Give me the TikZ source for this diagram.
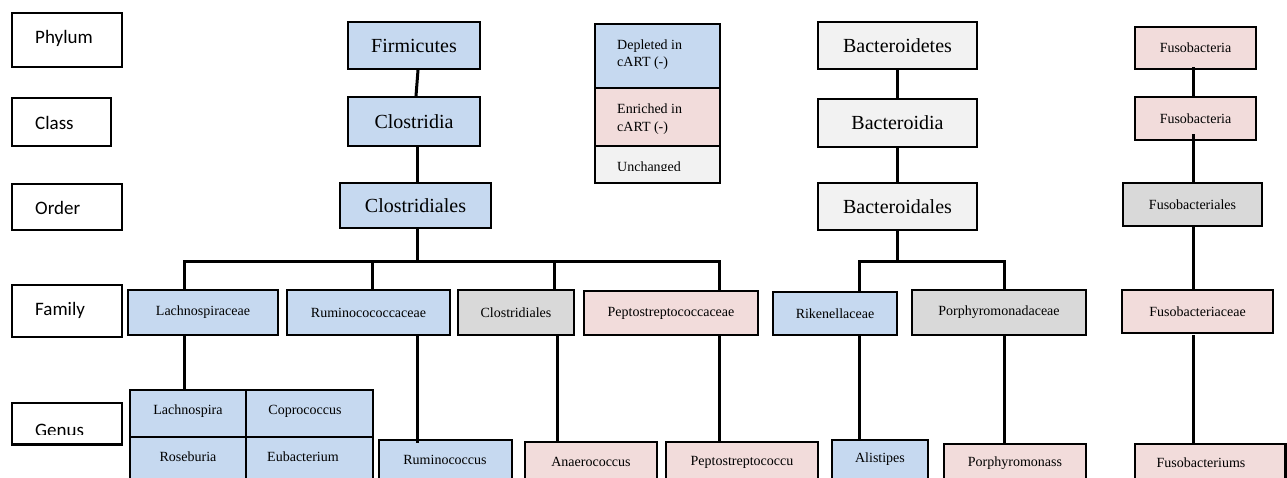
\documentclass[tikz,border=0pt]{standalone}
\usepackage{fontspec}
\setmainfont{Liberation Serif}
\newfontfamily\lblfont{Carlito}
\definecolor{dep}{HTML}{C6D9F0}
\definecolor{enr}{HTML}{F2DCDB}
\definecolor{unc}{HTML}{F2F2F2}
\definecolor{gry}{HTML}{D9D9D9}
\newcommand\mybox[8]{\node[box,fill=#6,#7,minimum width={(#4-#2)*1pt},minimum height={(#5-#3)*1pt}] (#1) at ({(#2+#4)/2},{(#3+#5)/2}) {#8};}
\begin{document}
\begin{tikzpicture}[x=1pt,y=-1pt,
  box/.style={draw=black, line width=2.2pt, inner sep=0pt, text=black},
  conn/.style={line width=3pt, line cap=rect},
  big/.style={font=\fontsize{20}{24}\selectfont},
  small/.style={font=\fontsize{14}{17}\selectfont},
  txt/.style={inner sep=0pt, font=\fontsize{14}{17}\selectfont},
  lbl/.style={font=\lblfont\fontsize{19}{23}\selectfont, anchor=west, inner sep=0pt},
]
\clip (0,0) rectangle (1287,477);
\fill[white] (0,0) rectangle (1287,477);

% rank labels
\mybox{Lphy}{12}{13}{122}{67}{white}{}{}
\mybox{Lcla}{12}{98}{111}{146}{white}{}{}
\mybox{Lord}{12}{184}{122}{230}{white}{}{}
\mybox{Lfam}{12}{285}{122}{337}{white}{}{}
\mybox{Lgen}{12}{403}{122}{444.5}{white}{}{}
\node[lbl] (tphy) at (35,38) {Phylum};
\node[lbl] (tcla) at (35,122.5) {Class};
\node[lbl] (tord) at (35,208.3) {Order};
\node[lbl] (tfam) at (35,310.3) {Family};
\begin{scope}
\clip (14,405) rectangle (120,434);
\node[lbl, anchor=base west] (tgen) at (35,436.3) {Genus};
\end{scope}

% legend
\mybox{leg1}{595}{24}{720}{88}{dep}{}{}
\mybox{leg2}{595}{88}{720}{146}{enr}{}{}
\mybox{leg3}{595}{146}{720}{183}{unc}{}{}
\node[txt, anchor=base west] (tl1) at (617,49.3) {Depleted in};
\node[txt, anchor=base west] (tl2) at (617,66.5) {cART (-)};
\node[txt, anchor=base west] (tl3) at (617,113.8) {Enriched in};
\node[txt, anchor=base west] (tl4) at (617,131) {cART (-)};
\begin{scope}
\clip (597,148) rectangle (718,170.3);
\node[txt, anchor=base west] (tl5) at (617,171.2) {Unchanged};
\end{scope}

% Firmicutes column
\mybox{firm}{348}{22}{480}{69}{dep}{big}{Firmicutes}
\mybox{clos}{348}{97}{480}{146}{dep}{big}{Clostridia}
\mybox{clor}{340}{183}{491}{228}{dep}{big}{Clostridiales}

% Bacteroidetes column
\mybox{bac1}{818}{22}{977}{69}{unc}{big}{Bacteroidetes}
\mybox{bac2}{818}{99}{977}{147}{unc}{big}{Bacteroidia}
\mybox{bac3}{818}{183}{977}{230}{unc}{big}{Bacteroidales}

% Fusobacteria column
\mybox{fus1}{1135}{27}{1256}{69}{enr}{small}{Fusobacteria}
\mybox{fus2}{1135}{97}{1256}{140}{enr}{small}{Fusobacteria}
\mybox{fus3}{1123}{183}{1262}{226}{gry}{small}{Fusobacteriales}

% families
\mybox{lach}{128}{290}{278}{335}{dep}{small}{Lachnospiraceae}
\mybox{rumi}{287}{290}{450}{335}{dep}{small}{Ruminocococcaceae}
\mybox{clfa}{458}{290}{574}{335}{gry}{small}{Clostridiales}
\mybox{pept}{584}{291}{758}{335}{enr}{small}{Peptostreptococcaceae}
\mybox{rike}{773}{292}{897}{335}{dep}{small}{Rikenellaceae}
\mybox{porf}{912}{290}{1086}{335}{gry}{small}{Porphyromonadaceae}
\mybox{fusf}{1122}{290}{1273}{333}{enr}{small}{Fusobacteriaceae}

% genera
\mybox{g1}{130}{390}{246}{437}{dep}{}{}
\mybox{g2}{246}{390}{373}{437}{dep}{}{}
\mybox{g3}{130}{437}{246}{500}{dep}{}{}
\mybox{g4}{246}{437}{373}{500}{dep}{}{}
\node[txt] (tg1) at (188,411) {Lachnospira};
\node[txt] (tg2) at (305,411) {Coprococcus};
\node[txt] (tg3) at (188,457) {Roseburia};
\node[txt] (tg4) at (303,457) {Eubacterium};
\mybox{rumg}{379}{440}{512}{500}{dep}{}{}
\mybox{anae}{525}{442}{657}{500}{enr}{}{}
\mybox{pepg}{666}{442}{818}{500}{enr}{}{}
\mybox{alis}{832}{440}{928}{500}{dep}{}{}
\mybox{porg}{944}{444}{1086}{500}{enr}{}{}
\mybox{fusg}{1135}{444}{1285.5}{500}{enr}{}{}
\node[txt] (trumg) at (445,460) {Ruminococcus};
\node[txt] (tanae) at (591,462) {Anaerococcus};
\node[txt] (tpepg) at (742,462) {Peptostreptococcu};
\node[txt] (talis) at (880,459) {Alistipes};
\node[txt] (tporg) at (1015,463) {Porphyromonass};
\node[txt] (tfusg) at (1201,463) {Fusobacteriums};

% bus coordinates
\coordinate (fb) at (417,261);
\coordinate (b1) at (184,261);
\coordinate (b2) at (372,261);
\coordinate (b3) at (554,261);
\coordinate (b4) at (719,261);
\coordinate (bb) at (897,261);
\coordinate (b5) at (859,261);
\coordinate (b6) at (1004,261);
\coordinate (fx) at (1193,0);
\coordinate (gr) at (417,0);
\coordinate (ga) at (557,0);

% connectors
\draw[conn] ([xshift=4pt]firm.south) -- ([xshift=2pt]clos.north);
\draw[conn] (clos.south -| fb) -- (clor.north -| fb);
\draw[conn] (clor.south -| fb) -- (fb);
\draw[conn] (b1) -- (b4);
\draw[conn] (b1) -- (lach.north -| b1);
\draw[conn] (b2) -- (rumi.north -| b2);
\draw[conn] (b3) -- (clfa.north -| b3);
\draw[conn] (b4) -- (pept.north -| b4);

\draw[conn] (bac1.south -| bb) -- (bac2.north -| bb);
\draw[conn] (bac2.south -| bb) -- (bac3.north -| bb);
\draw[conn] (bac3.south -| bb) -- (bb);
\draw[conn] (b5) -- (b6);
\draw[conn] (b5) -- (rike.north -| b5);
\draw[conn] (b6) -- (porf.north -| b6);

\draw[conn] ([yshift=2pt]fus1.south -| fx) -- (fus2.north -| fx);
\draw[conn] ([yshift=6pt]fus2.south -| fx) -- (fus3.north -| fx);
\draw[conn] (fus3.south -| fx) -- (fusf.north -| fx);
\draw[conn] ([yshift=-2pt]fusf.south -| fx) -- (fusg.north -| fx);

\draw[conn] (lach.south -| b1) -- (g1.north -| b1);
\draw[conn] (rumi.south -| gr) -- ([yshift=-3pt]rumg.north -| gr);
\draw[conn] (clfa.south -| ga) -- (anae.north -| ga);
\draw[conn] (pept.south -| b4) -- (pepg.north -| b4);
\draw[conn] (rike.south -| b5) -- (alis.north -| b5);
\draw[conn] (porf.south -| b6) -- (porg.north -| b6);
\end{tikzpicture}
\end{document}
